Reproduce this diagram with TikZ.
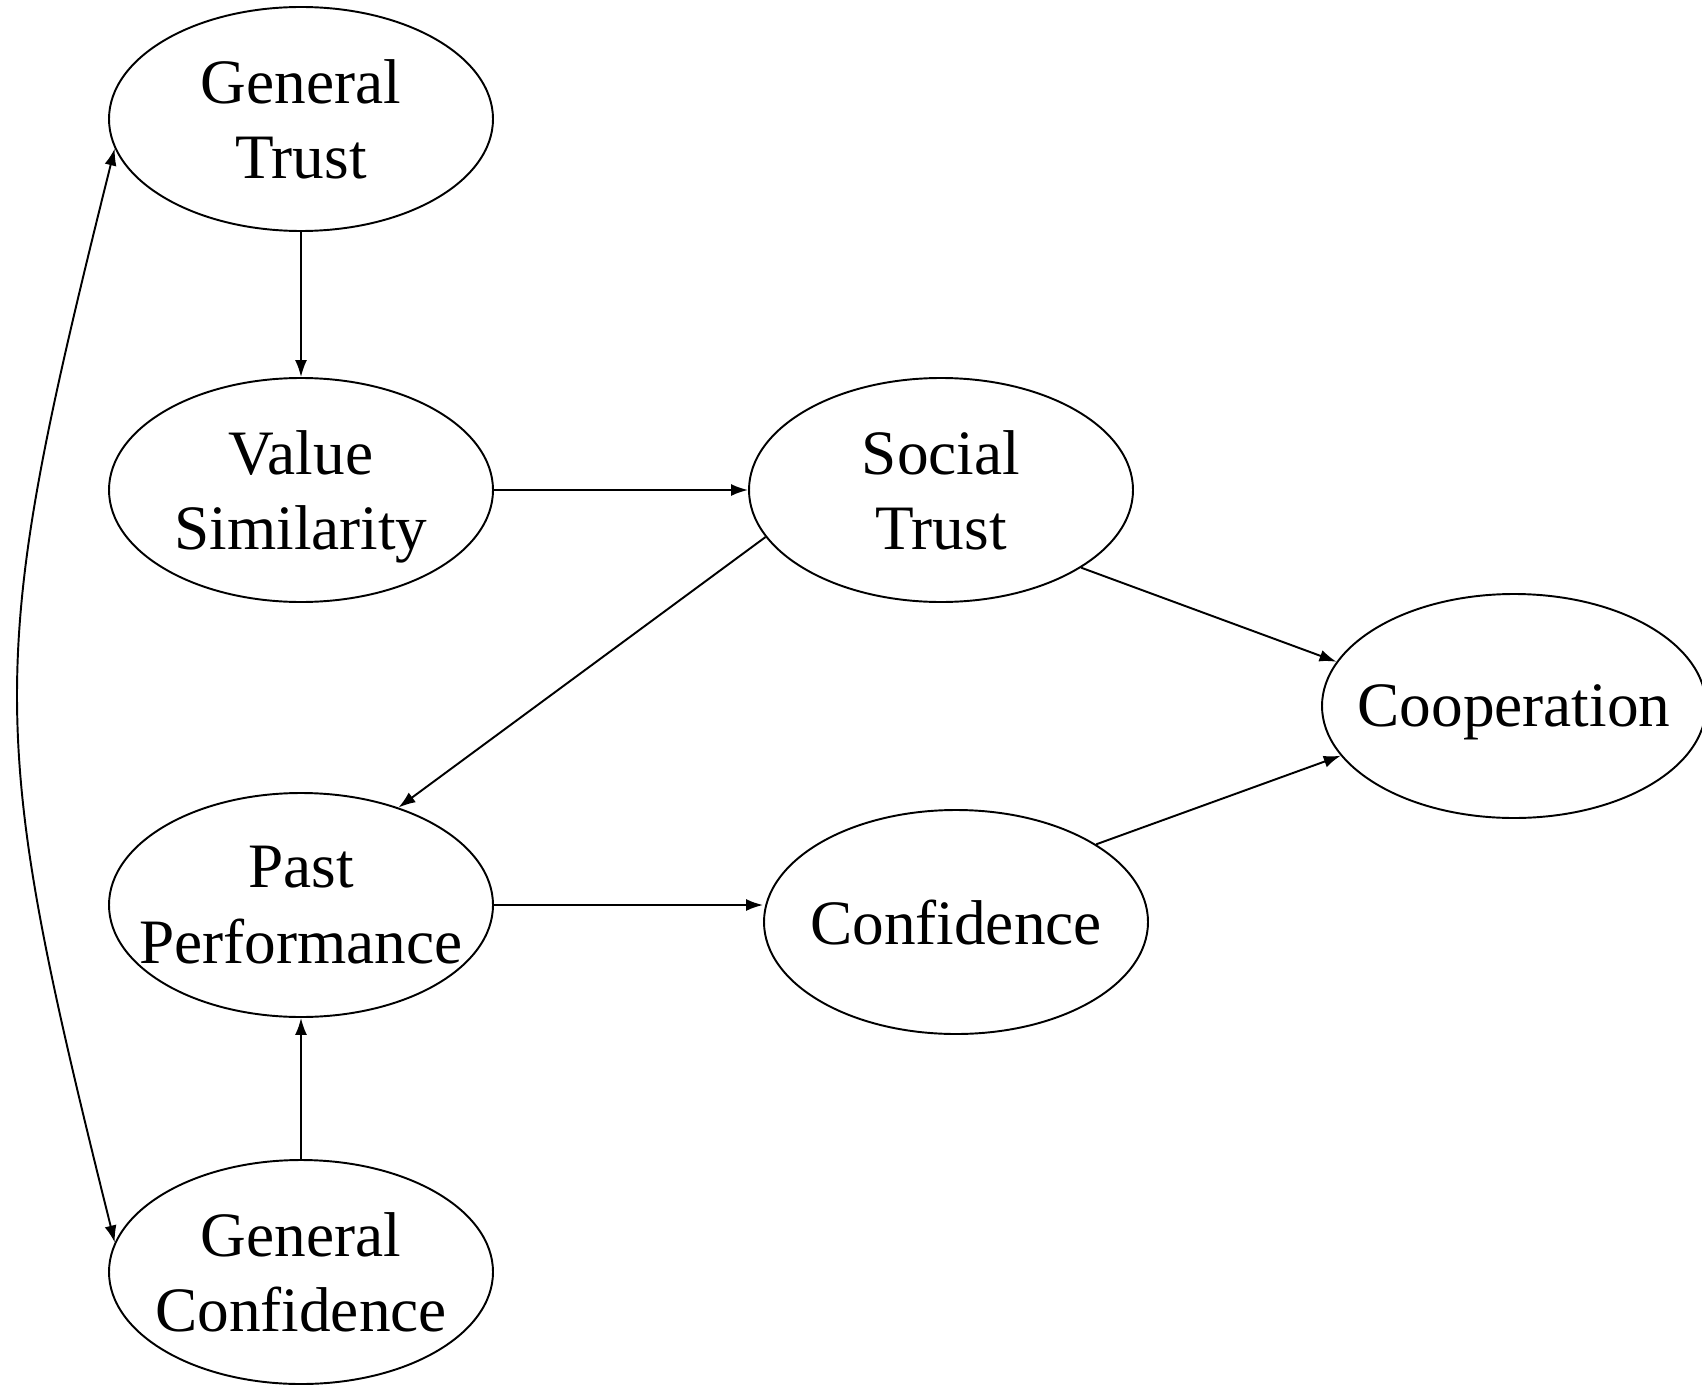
\documentclass[tikz,border=0pt]{standalone}
\usepackage{fontspec}
\setmainfont{Liberation Serif}
\usetikzlibrary{shapes.geometric,arrows.meta}
\begin{document}
\begin{tikzpicture}[
    factor/.style={ellipse, draw, line width=1.1pt, minimum width=7.68cm,
      minimum height=4.48cm, inner xsep=-1cm, inner ysep=0pt, align=center,
      text depth=0pt, font=\fontsize{36}{43}\selectfont},
    >={Latex[length=0.34cm,width=0.24cm]}]
      \useasboundingbox (0,0) rectangle (34.04,-27.72);
      \draw
        (6.02,-2.38) node[factor] (gt){General\\Trust}
        (6.02,-9.80) node[factor] (vs){Value\\Similarity}
        (18.82,-9.80) node[factor] (st){Social\\Trust}
        (30.28,-14.12) node[factor] (co){Cooperation}
        (6.02,-18.10) node[factor] (pp){Past\\Performance}
        (19.12,-18.44) node[factor] (cf){Confidence}
        (6.02,-25.44) node[factor] (gc){General\\Confidence};
      \begin{scope}[->, line width=1.1pt]
        \draw (gt) to (vs);
        \draw (vs) to (st);
        \draw (st.195) to (pp.45);
        \draw (st.-29) to (co.166);
        \draw (cf.29) to (co.196);
        \draw (pp.east) to (cf.west |- pp.east);
        \draw (gc) to (pp);
        \draw[<->] (gt.189) to[bend right=14, looseness=1.25] (gc.171);
      \end{scope}
    \end{tikzpicture}
\end{document}
